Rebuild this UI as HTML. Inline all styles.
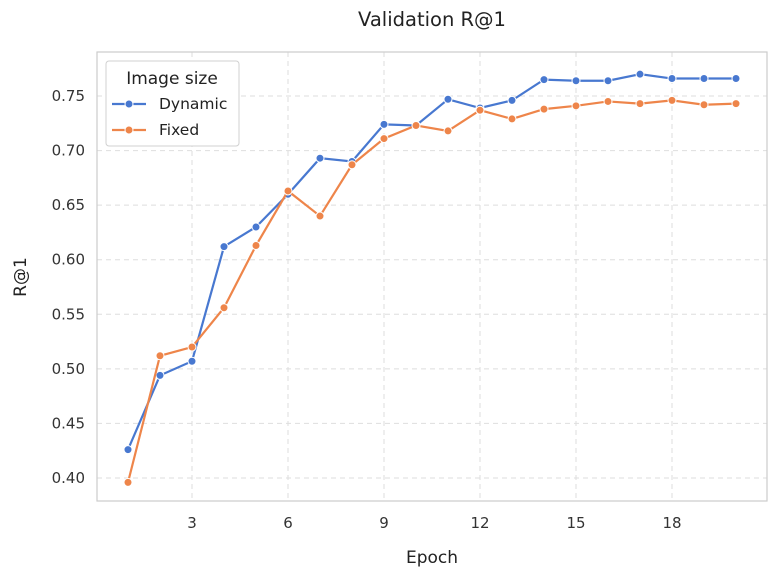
<!DOCTYPE html>
<html><head><meta charset="utf-8"><style>
body{margin:0;background:#fff;}
svg{display:block;font-family:"DejaVu Sans","Liberation Sans",sans-serif;}
</style></head><body>
<svg id="chart" width="776" height="576"></svg>
<script>
const epochs=[1,2,3,4,5,6,7,8,9,10,11,12,13,14,15,16,17,18,19,20];
const dynamicVals=[0.426,0.494,0.507,0.612,0.630,0.660,0.693,0.690,0.724,0.723,0.747,0.739,0.746,0.765,0.764,0.764,0.770,0.766,0.766,0.766];
const fixedVals=[0.396,0.512,0.520,0.556,0.613,0.663,0.640,0.687,0.711,0.723,0.718,0.737,0.729,0.738,0.741,0.745,0.743,0.746,0.742,0.743];
const xTicks=[3,6,9,12,15,18];
const yTicks=[0.40,0.45,0.50,0.55,0.60,0.65,0.70,0.75];
const seriesNames=["Dynamic","Fixed"];

const NS="http://www.w3.org/2000/svg";
const svg=document.getElementById('chart');
const L=97,R=767,T=52,B=501;
const x=e=>128+(e-1)*32;
const y=v=>478-(v-0.40)*(382/0.35);
function mk(tag,attrs,parent){const el=document.createElementNS(NS,tag);for(const k in attrs)el.setAttribute(k,attrs[k]);(parent||svg).appendChild(el);return el;}

const grid=mk('g',{});


xTicks.forEach(t=>{
  const l=mk('line',{x1:x(t),x2:x(t),y1:T,y2:B,stroke:'#dedede','stroke-dasharray':'5,4','stroke-width':1},grid);
  
  
  const tx=mk('text',{x:x(t),y:528,'font-size':15,'text-anchor':'middle',fill:'#333'});
  tx.textContent=t;
  
  
});
yTicks.forEach(t=>{
  const l=mk('line',{x1:L,x2:R,y1:y(t),y2:y(t),stroke:'#dedede','stroke-dasharray':'5,4','stroke-width':1},grid);
  
  
  const tx=mk('text',{x:85,y:y(t)+5,'font-size':15,'text-anchor':'end',fill:'#333'});
  tx.textContent=t.toFixed(2);
  
  
});
const frame=mk('rect',{x:L,y:T,width:R-L,height:B-T,fill:'none',stroke:'#cccccc','stroke-width':1.2});



function drawSeries(vals,color,name){
  const g=mk('g',{});
  
  
  const p=mk('polyline',{points:vals.map((v,i)=>x(epochs[i])+','+y(v)).join(' '),fill:'none',stroke:color,'stroke-width':2.2},g);
  
  
  vals.forEach((v,i)=>{
    const c=mk('circle',{cx:x(epochs[i]),cy:y(v),r:4,fill:color,stroke:'#fff','stroke-width':1},g);
    
    
  });
}
drawSeries(dynamicVals,'#4878d0','dynamic');
drawSeries(fixedVals,'#ee854a','fixed');

const title=mk('text',{x:432,y:26,'font-size':19.5,'text-anchor':'middle',fill:'#222'});
title.textContent='Validation R@1';


const xt=mk('text',{x:432,y:563,'font-size':17,'text-anchor':'middle',fill:'#222'});
xt.textContent='Epoch';


const yt=mk('text',{x:26,y:277,'font-size':17,'text-anchor':'middle',fill:'#222',transform:'rotate(-90 26 277)'});
yt.textContent='R@1';



const leg=mk('g',{});


mk('rect',{x:106,y:61,width:133,height:85,rx:3,fill:'#fff',stroke:'#d0d0d0'},leg);
const lt=mk('text',{x:172,y:84,'font-size':17,'text-anchor':'middle',fill:'#222'},leg);
lt.textContent='Image size';


[['#4878d0',104],['#ee854a',130]].forEach((s,i)=>{
  const e=mk('g',{},leg);
  
  
  mk('line',{x1:112,x2:146,y1:s[1],y2:s[1],stroke:s[0],'stroke-width':2.2},e);
  mk('circle',{cx:129,cy:s[1],r:4,fill:s[0],stroke:'#fff','stroke-width':1},e);
  const t=mk('text',{x:159,y:s[1]+5,'font-size':15.5,fill:'#222'},e);
  t.textContent=seriesNames[i];
});
</script>
</body></html>
